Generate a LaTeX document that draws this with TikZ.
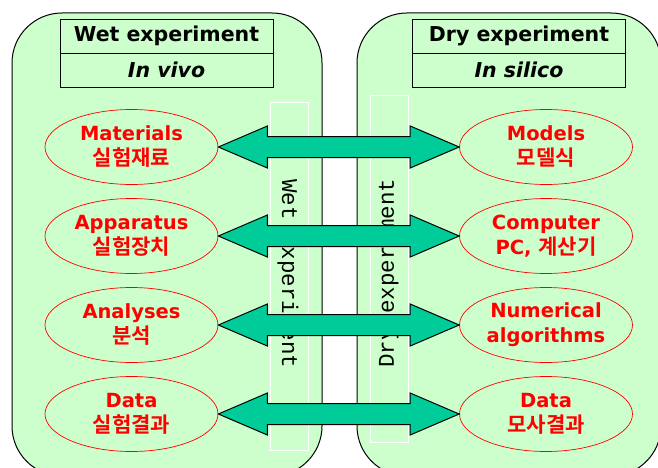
\documentclass[tikz,border=0pt]{standalone}
\usepackage{fontspec}
\setmainfont{DejaVu Sans}
\newfontfamily\kor{Noto Sans CJK KR}[BoldFont={* Bold},Scale=1.08]
\newfontfamily\mono{Liberation Mono}
\usetikzlibrary{calc,shapes.geometric}
\definecolor{panelgreen}{RGB}{204,255,204}
\definecolor{arrowteal}{RGB}{0,204,153}

\begin{document}
\begin{tikzpicture}[x=1pt,y=-1pt,
  panel/.style={draw=black,fill=panelgreen,rounded corners=50pt,line width=1pt},
  headbox/.style={draw=black,fill=panelgreen,line width=0.8pt,minimum width=213pt,minimum height=34pt,inner sep=0pt,font=\fontsize{20.5}{24}\selectfont\bfseries},
  item/.style={ellipse,draw=red,text=red,line width=0.7pt,minimum width=173pt,minimum height=75pt,inner sep=0pt,align=center,font=\fontsize{19.5}{25}\selectfont\bfseries},
  sidebox/.style={draw=white,line width=0.8pt,minimum width=38pt,inner sep=0pt},
  sidetext/.style={font=\fontsize{22.5}{24}\selectfont\mono},
  twoway/.style={draw=black,fill=arrowteal,line width=1pt,line join=miter}]
  \useasboundingbox (0,0) rectangle (658,468);
  \clip (0,0) rectangle (658,468);
  % --- the two panels
  \draw[panel] (12,13) rectangle (322,476);
  \draw[panel] (357,13) rectangle (661,476);
  % --- side labels, behind the arrows
  \node[sidebox,minimum height=348pt] (wetside) at (289,276) {};
  \node[sidetext,rotate=-90] (wetlabel) at (288,274) {Wet experiment};
  \node[sidebox,minimum height=347pt] (dryside) at (389,268.5) {};
  \node[sidetext,rotate=90] (drylabel) at (388,273) {Dry experiment};
  % --- headers
  \node[headbox] (wethead) at (166.5,36) {Wet experiment};
  \node[headbox,font=\fontsize{20.5}{24}\selectfont\bfseries\itshape] (wetsub) at (166.5,70) {In vivo};
  \node[headbox] (dryhead) at (519,36) {Dry experiment};
  \node[headbox,font=\fontsize{20.5}{24}\selectfont\bfseries\itshape] (drysub) at (519,70) {In silico};
  % --- items
  \foreach \en/\ko [count=\i] in {Materials/실험재료,Apparatus/실험장치,Analyses/분석,Data/실험결과} {
    \node[item] (l\i) at (131.5,58+89*\i) {\en\\{\kor\ko}};
  }
  \foreach \txt [count=\i] in {{Models\\{\kor 모델식}},{Computer\\PC, {\kor 계산기}},{Numerical\\algorithms},{Data\\{\kor 모사결과}}} {
    \node[item] (r\i) at (546,58+89*\i) {\txt};
  }
  % --- two-way arrows
  \foreach \i in {1,...,4} {
    \draw[twoway] (l\i.east) -- ++(49,-21) -- ++(0,10.5) -- ($(r\i.west)+(-49,-10.5)$) -- ++(0,-10.5) -- (r\i.west) -- ++(-49,21) -- ++(0,-10.5) -- ($(l\i.east)+(49,10.5)$) -- ++(0,10.5) -- cycle;
  }
\end{tikzpicture}
\end{document}
